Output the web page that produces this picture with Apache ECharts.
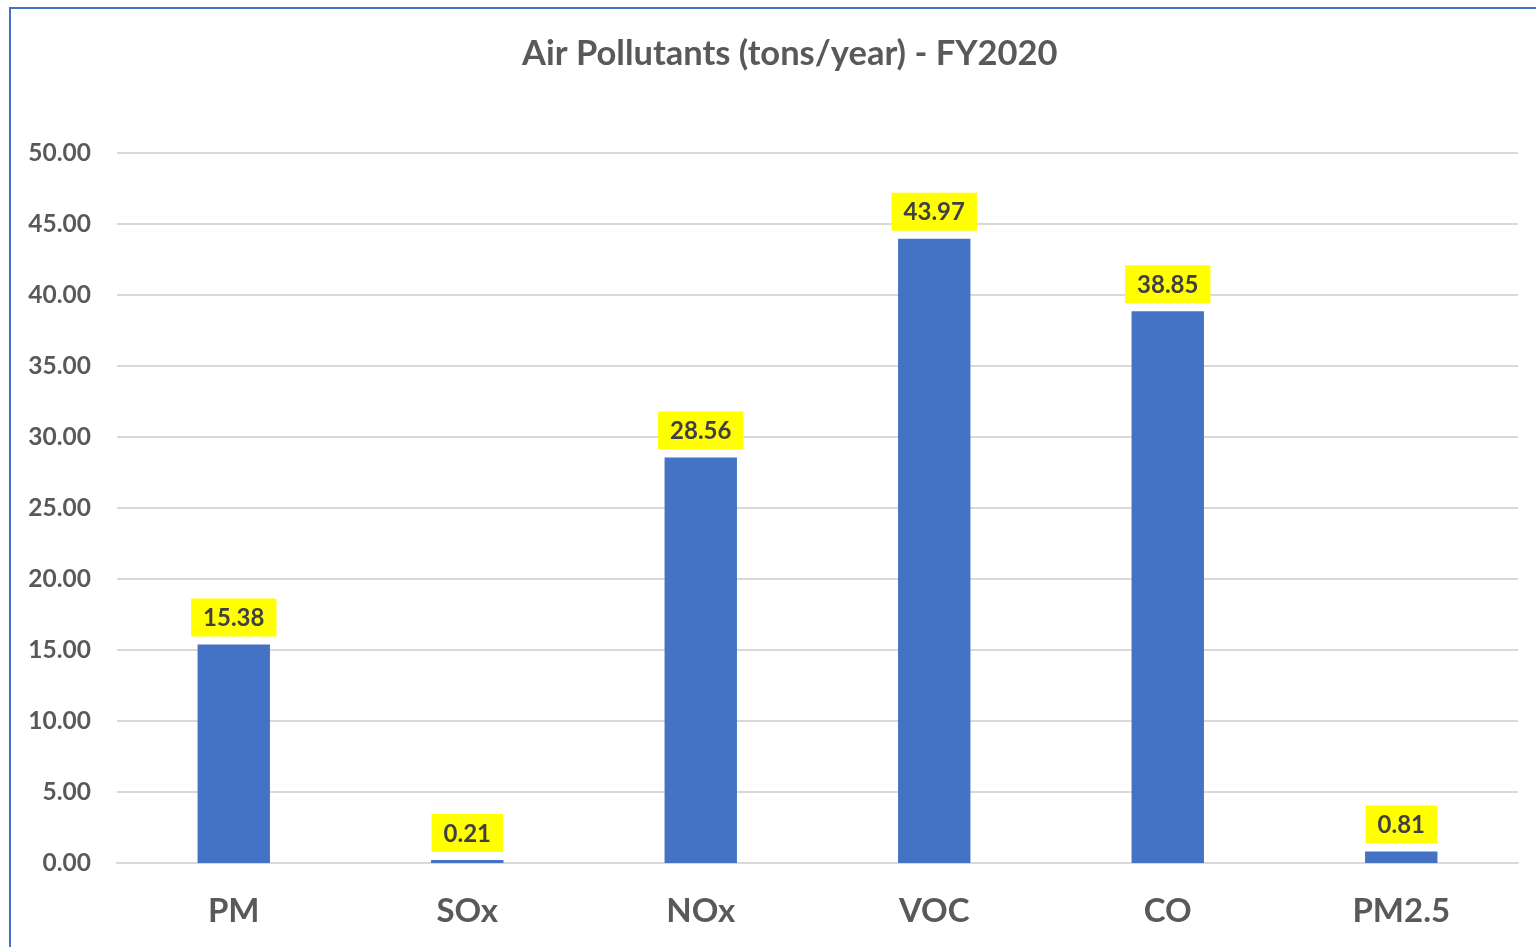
<!DOCTYPE html>
<html>
<head>
<meta charset="utf-8">
<script src="https://cdn.jsdelivr.net/npm/echarts@6/dist/echarts.min.js"></script>
<style>
html, body { margin: 0; padding: 0; background: #fff; overflow: hidden; }
.frame {
    position: absolute; left: 9px; top: 7px;
    width: 1600px; height: 1000px;
    border: 2px solid #4472c4;
}
#chart { position: absolute; left: 0; top: 0; width: 1536px; height: 947px; }
</style>
</head>
<body>
<div class="frame"></div>
<div id="chart"></div>
<script>
// 数据
const categories = ['PM', 'SOx', 'NOx', 'VOC', 'CO', 'PM2.5'];
const values = [15.38, 0.21, 28.56, 43.97, 38.85, 0.81];

const fontFamily = 'Lato, "Open Sans", sans-serif';
const chart = echarts.init(document.getElementById('chart'));
const option = {
    animation: false,
    title: {
        text: 'Air Pollutants (tons/year) - FY2020',
        left: 517,
        top: 31,
        textStyle: {
            fontFamily: fontFamily,
            fontSize: 34.5,
            fontWeight: 'bold',
            color: '#595959'
        }
    },
    grid: {
        left: 117,
        right: 18,
        top: 153,
        bottom: 84
    },
    xAxis: {
        type: 'category',
        data: categories,
        axisTick: { show: false },
        axisLine: { lineStyle: { color: '#d9d9d9', width: 2 } },
        axisLabel: {
            margin: 32,
            fontFamily: fontFamily,
            fontSize: 33,
            fontWeight: 'bold',
            color: '#595959'
        }
    },
    yAxis: {
        type: 'value',
        min: 0,
        max: 50,
        interval: 5,
        axisLine: { show: false },
        axisTick: { show: false },
        splitLine: { lineStyle: { color: '#d9d9d9', width: 2 } },
        axisLabel: {
            margin: 26,
            fontFamily: fontFamily,
            fontSize: 24.5,
            fontWeight: 'bold',
            color: '#595959',
            formatter: v => v.toFixed(2)
        }
    },
    series: [{
        type: 'bar',
        data: values,
        barWidth: '31%',
        itemStyle: { color: '#4472c4' },
        label: {
            show: true,
            position: 'top',
            distance: 8,
            formatter: p => p.value.toFixed(2),
            backgroundColor: '#ffff00',
            padding: [8, 12, 6, 12],
            fontFamily: fontFamily,
            fontSize: 24,
            fontWeight: 'bold',
            color: '#404040'
        }
    }]
};
chart.setOption(option);
</script>
</body>
</html>
